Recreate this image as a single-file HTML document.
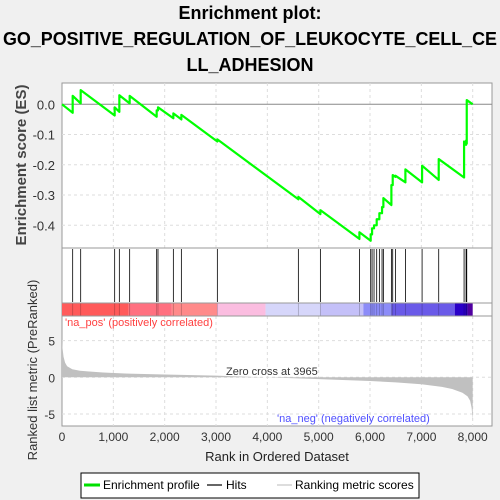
<!DOCTYPE html>
<html><head><meta charset="utf-8"><style>
html,body{margin:0;padding:0;background:#f0f0f0;}
svg{display:block;font-family:"Liberation Sans",sans-serif;}
</style></head><body>
<svg id="chart" width="500" height="500" viewBox="0 0 500 500">
<g font-weight="bold" font-size="18" text-anchor="middle" fill="#000">
<text x="250" y="19">Enrichment plot:</text>
<text x="250" y="45" textLength="494" lengthAdjust="spacingAndGlyphs">GO_POSITIVE_REGULATION_OF_LEUKOCYTE_CELL_CE</text>
<text x="250" y="71">LL_ADHESION</text>
</g>
<rect x="62" y="83" width="430" height="343" fill="#fff" stroke="#999"/>
<g id="grid"></g>
<g id="colorbar"></g>
<g id="hits"></g>
<g id="metric"></g>
<g id="es"></g>
<g id="axes" font-size="13" fill="#333"></g>
<line x1="62" y1="248" x2="492" y2="248" stroke="#999"/>
<line x1="62" y1="303" x2="492" y2="303" stroke="#999"/>
<line x1="62" y1="316" x2="492" y2="316" stroke="#999"/>
<text x="65" y="326" font-size="11" fill="#ff4040">'na_pos' (positively correlated)</text>
<text x="277" y="422" font-size="11" fill="#5050ff">'na_neg' (negatively correlated)</text>
<text x="226" y="375" font-size="11" fill="#333">Zero cross at 3965</text>
<text transform="translate(26,165) rotate(-90)" text-anchor="middle" font-size="15" font-weight="bold" fill="#444">Enrichment score (ES)</text>
<text transform="translate(37,370) rotate(-90)" text-anchor="middle" font-size="13" fill="#333">Ranked list metric (PreRanked)</text>
<text x="277" y="461" text-anchor="middle" font-size="13" fill="#222">Rank in Ordered Dataset</text>
<g>
<rect x="81" y="473" width="338" height="25" fill="#fff" stroke="#000"/>
<line x1="84" y1="485" x2="100" y2="485" stroke="#00e000" stroke-width="3"/>
<text x="103" y="489" font-size="12" fill="#000">Enrichment profile</text>
<line x1="207" y1="485" x2="222" y2="485" stroke="#666" stroke-width="2"/>
<text x="226" y="489" font-size="12" fill="#000">Hits</text>
<line x1="277" y1="485" x2="292" y2="485" stroke="#ddd" stroke-width="2"/>
<text x="295" y="489" font-size="12" fill="#000">Ranking metric scores</text>
</g>
</svg>
<script>
const hitRanks=[208,364,1026,1117,1318,1844,1870,2169,2325,3026,4604,5033,5793,6013,6040,6078,6130,6182,6234,6260,6416,6442,6494,6689,7014,7338,7832,7871,7884];
const esBefore=[-0.028,0.003,-0.037,-0.025,0.003,-0.041,-0.02,-0.046,-0.05,-0.123,-0.314,-0.363,-0.445,-0.451,-0.43,-0.41,-0.40,-0.38,-0.36,-0.34,-0.333,-0.267,-0.24,-0.258,-0.258,-0.25,-0.242,-0.134,-0.13];
const esAfter=[0.028,0.047,-0.01,0.03,0.028,-0.02,-0.01,-0.03,-0.035,-0.116,-0.306,-0.35,-0.423,-0.43,-0.41,-0.40,-0.38,-0.36,-0.34,-0.31,-0.267,-0.234,-0.236,-0.215,-0.203,-0.181,-0.123,-0.12,0.014];
const metricRanks=[0,10,30,60,100,200,350,500,800,1300,2000,3000,3965,5000,6000,6500,7000,7400,7600,7800,7900,7950,7980,8000];
const metricVals=[5.2,4.0,2.8,2.0,1.5,1.1,0.9,0.8,0.65,0.5,0.38,0.22,0,-0.25,-0.5,-0.7,-0.95,-1.3,-1.6,-2.1,-2.6,-3.2,-4.2,-6.0];
const esTicks=[0,-0.1,-0.2,-0.3,-0.4];
const esTickLabels=["0.0","-0.1","-0.2","-0.3","-0.4"];
const metricTicks=[5,0,-5];
const xTicks=[0,1000,2000,3000,4000,5000,6000,7000,8000];
const xTickLabels=["0","1,000","2,000","3,000","4,000","5,000","6,000","7,000","8,000"];
const barRanks=[0,1300,2140,3020,3965,5030,5870,6420,7650,7900,8000];
const barColors=["#ff5a5a","#ff7080","#ff8a8a","#fbbde0","#d6d6fa","#c4c0f8","#8c8cf8","#6a5ae8","#2a00c8","#5000a0"];
const NS="http://www.w3.org/2000/svg";
const xS=r=>62+r*(410.7/8000);
const yES=v=>104.3-v*302.5;
const yM=v=>377.3-v*7.33;
function mk(tag,attrs,parent){const e=document.createElementNS(NS,tag);for(const k in attrs)e.setAttribute(k,attrs[k]);parent.appendChild(e);return e;}
const grid=document.getElementById('grid'),axes=document.getElementById('axes');
xTicks.forEach((t,i)=>{
 if(i>0){const l=mk('line',{x1:xS(t),x2:xS(t),y1:83,y2:248,stroke:'#ddd','stroke-dasharray':'3,3'},grid);
 const l2=mk('line',{x1:xS(t),x2:xS(t),y1:316,y2:426,stroke:'#ddd','stroke-dasharray':'3,3'},grid);}
 const tx=mk('text',{x:xS(t),y:441,'text-anchor':'middle','font-size':12},axes);tx.textContent=xTickLabels[i];
 
 
});
esTicks.forEach((t,i)=>{
 const l=mk('line',{x1:62,x2:492,y1:yES(t),y2:yES(t),stroke:t===0?'#888':'#ddd','stroke-dasharray':t===0?'':'3,3'},grid);
 
 
 const tx=mk('text',{x:55,y:yES(t)+5,'text-anchor':'end','font-size':13},axes);tx.textContent=esTickLabels[i];
 
 
});
metricTicks.forEach(t=>{
 const l=mk('line',{x1:62,x2:492,y1:yM(t),y2:yM(t),stroke:'#ddd','stroke-dasharray':'3,3'},grid);
 
 
 const tx=mk('text',{x:55,y:yM(t)+5,'text-anchor':'end','font-size':12},axes);tx.textContent=String(t);
 
 
});
const cb=document.getElementById('colorbar');
barColors.forEach((c,i)=>{
 const r=mk('rect',{x:xS(barRanks[i]),y:303,width:xS(barRanks[i+1])-xS(barRanks[i]),height:13,fill:c},cb);
 
 
});
const hits=document.getElementById('hits');
hitRanks.forEach(r=>{
 const l=mk('line',{x1:xS(r),x2:xS(r),y1:249,y2:302,stroke:'#000','stroke-width':0.8},hits);
 
 
 const l2=mk('line',{x1:xS(r),x2:xS(r),y1:303,y2:316,stroke:'rgba(0,0,0,0.25)','stroke-width':0.8},hits);
 
 
});
let md='M'+xS(0)+','+yM(0);
metricRanks.forEach((r,i)=>{md+=' L'+xS(r)+','+yM(metricVals[i]);});
md+=' L'+xS(8000)+','+yM(0)+' Z';
const mp=mk('path',{d:md,fill:'#c0c0c0',stroke:'none'},document.getElementById('metric'));


let d='M'+xS(0)+','+yES(0);
hitRanks.forEach((r,i)=>{d+=' L'+xS(r)+','+yES(esBefore[i])+' L'+xS(r)+','+yES(esAfter[i]);});
d+=' L'+xS(8000)+','+yES(0);
const ep=mk('path',{d:d,fill:'none',stroke:'#00ff00','stroke-width':2.2,'stroke-linejoin':'round'},document.getElementById('es'));


</script>
</body></html>
